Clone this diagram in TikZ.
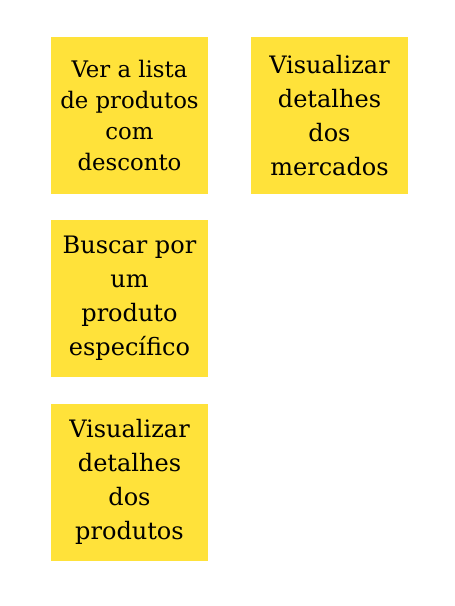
\documentclass[tikz,border=0pt]{standalone}
\usepackage{fontspec}
\setmainfont{DejaVu Serif}
\definecolor{sticky}{RGB}{255,226,58}
\begin{document}
\begin{tikzpicture}[x=1pt,y=-1pt,
  note/.style={fill=sticky,minimum width=157pt,minimum height=157pt,inner sep=0pt,align=center,text=black},
  small/.style={font=\fontsize{22.8}{31}\selectfont},
  big/.style={font=\fontsize{24}{34}\selectfont}]
\useasboundingbox (0,0) rectangle (455,606);
\node[note,small] (a) at (129.5,115.5) {Ver a lista\\de produtos\\com\\desconto};
\node[note,big] (b) at (329.5,115.5) {Visualizar\\detalhes\\dos\\mercados};
\node[note,big] (c) at (129.5,298) {Buscar por\\um\\produto\\específico};
\node[note,big] (d) at (129.5,482) {Visualizar\\detalhes\\dos\\produtos};
\end{tikzpicture}
\end{document}
